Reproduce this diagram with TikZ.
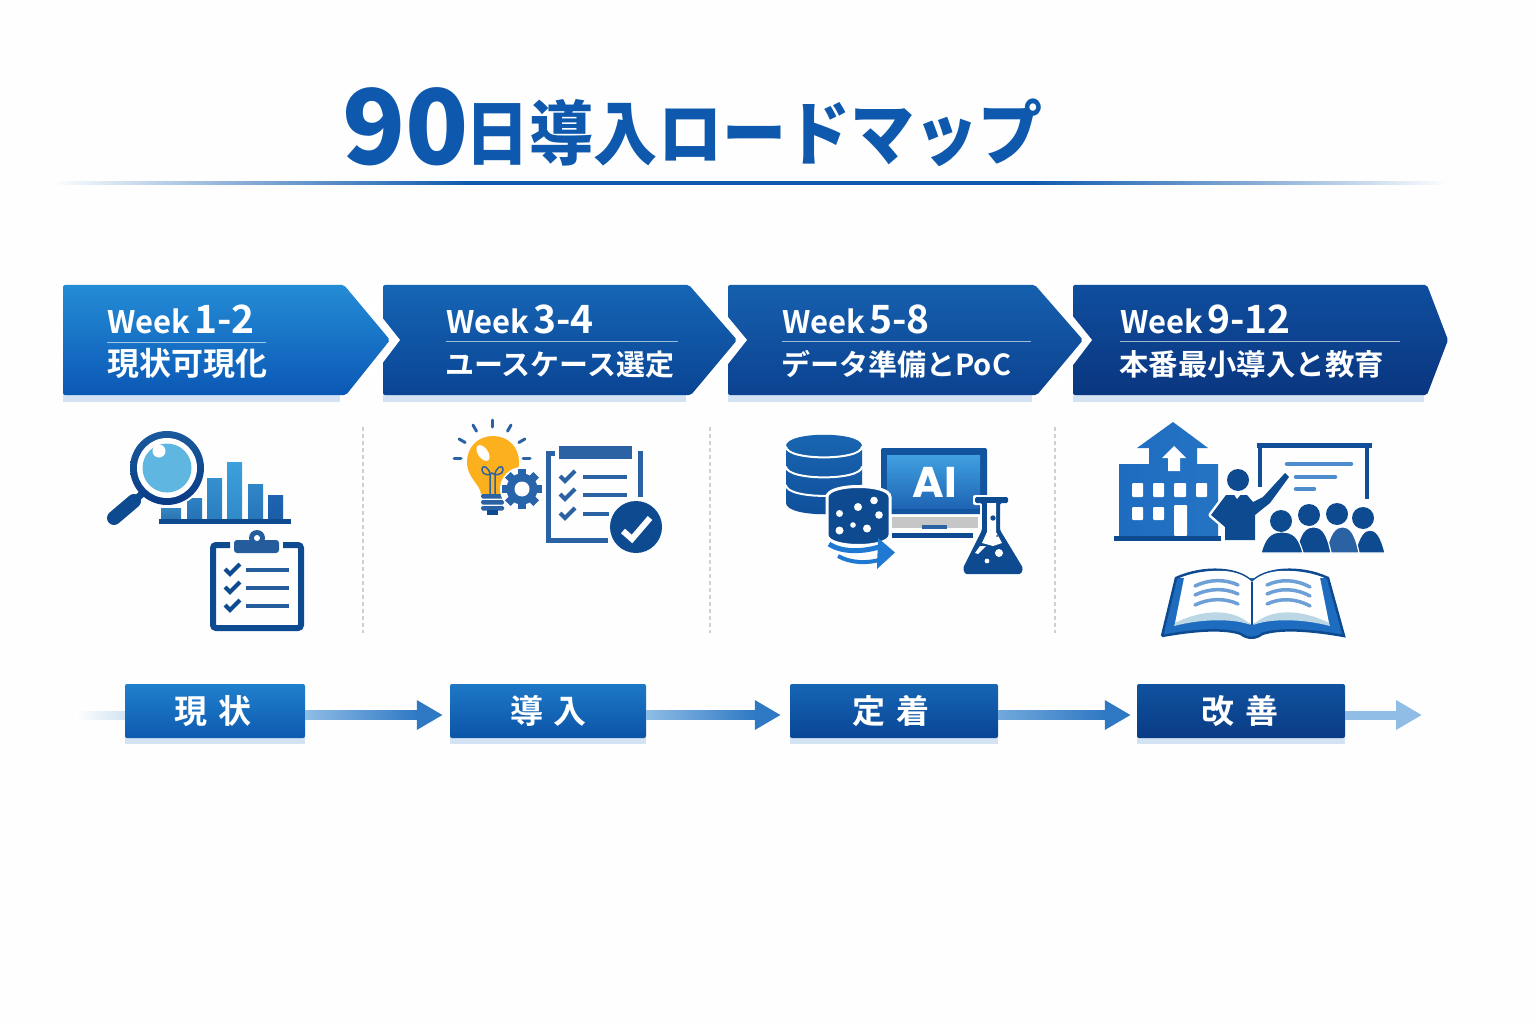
\documentclass[tikz,border=0pt]{standalone}
\usepackage{fontspec}
\setmainfont{Noto Sans CJK JP}[BoldFont={Noto Sans CJK JP Bold}]
\newfontfamily\jpblack{Noto Sans CJK JP Black}
\newfontfamily\wkf{Poppins}
\usetikzlibrary{calc,arrows.meta}
\definecolor{navy}{HTML}{0D4A90}
\definecolor{deep}{HTML}{0A3B85}
\definecolor{mid}{HTML}{1E6CC0}
\definecolor{steel}{HTML}{2A62A4}
\definecolor{pale}{HTML}{D3E3F3}
\definecolor{sky}{HTML}{5FB6E0}
\definecolor{amber}{HTML}{FDB01E}
\definecolor{titleblue}{HTML}{0E59AD}
\definecolor{arrowblue}{HTML}{2E78C4}
\definecolor{arrowlight}{HTML}{8FBDE6}
\definecolor{rulec}{HTML}{CDD1D6}
\definecolor{rulefade}{HTML}{86ACD6}
\pgfdeclarehorizontalshading{titlerule}{100bp}{color(0bp)=(white); color(25bp)=(white); color(32bp)=(rulefade); color(40bp)=(titleblue); color(60bp)=(titleblue); color(68bp)=(rulefade); color(75bp)=(white); color(100bp)=(white)}
\newcommand{\fs}[1]{\fontsize{#1}{#1}\selectfont}
\newcommand{\chk}[3]{\draw[line width=#3,line cap=butt,line join=miter] (#1-7,#2-1) -- (#1-2,#2+4) -- (#1+8,#2-6);}
\newcommand{\week}[1]{\fs{31}\bfseries Week\hspace{4pt}\fs{39}#1}
\tikzset{
  x=1pt,y=-1pt,
  wk/.style={anchor=base west,inner sep=0,text=white,font=\bfseries},
  sub/.style={anchor=base west,inner sep=0,text=white,font=\bfseries},
  pill/.style={minimum height=54,inner sep=0,rounded corners=2,text=white,font=\bfseries\fs{33}},
  conn/.style={line width=9,arrowblue,-{Triangle[length=26,width=28]}},
  sep/.style={rulec,line width=1.4,dash pattern=on 4 off 3},
  wrule/.style={white,opacity=.6,line width=1},
  shadowb/.style={fill=pale},
}
\begin{document}
\begin{tikzpicture}
\useasboundingbox (0,0) rectangle (1536,1024);
\fill[white!99.5!black] (0,0) rectangle (1536,1024);

% title
\node[anchor=base west,inner sep=0,text=titleblue] (title) at (342,164.5) {\jpblack\fs{104}90\hspace{-3pt}\raisebox{5pt}{\scalebox{.915}[1]{\fs{70}日導入ロードマップ}}};
\shade[shading=titlerule] (50,181.5) rectangle (1450,184.5);

% banner shadows
\fill[shadowb] (63,394) rectangle (340,402);
\fill[shadowb] (383,394) rectangle (686,402);
\fill[shadowb] (728,394) rectangle (1032,402);
\fill[shadowb] (1073,394) rectangle (1424,402);

% banners, right to left
\shade[top color={rgb,255:red,15;green,78;blue,158},bottom color={rgb,255:red,10;green,54;blue,128},rounded corners=2] (1073,285) -- (1427,285) -- (1448,340) -- (1427,395) -- (1073,395) -- cycle;
\fill[white] (1033,282) -- (1045,282) -- (1092,340) -- (1048,398) -- (1033,398) -- cycle;
\shade[top color={rgb,255:red,22;green,96;blue,174},bottom color={rgb,255:red,11;green,66;blue,144},rounded corners=2] (728,285) -- (1035,285) -- (1083,340) -- (1037,395) -- (728,395) -- cycle;
\fill[white] (686,282) -- (699,282) -- (747,340) -- (701,398) -- (686,398) -- cycle;
\shade[top color={rgb,255:red,22;green,101;blue,181},bottom color={rgb,255:red,10;green,68;blue,148},rounded corners=2] (383,285) -- (689,285) -- (737,340) -- (691,395) -- (383,395) -- cycle;
\fill[white] (343,282) -- (354,282) -- (400,340) -- (356,398) -- (343,398) -- cycle;
\shade[top color={rgb,255:red,36;green,140;blue,214},bottom color={rgb,255:red,11;green,88;blue,181},rounded corners=2] (63,285) -- (344,285) -- (390,340) -- (346,395) -- (63,395) -- cycle;

% banner texts
\node[wk] (w1) at (107,333) {\week{1-2}};
\draw[wrule] (107,342) -- (266,342);
\node[sub] (s1) at (107,375) {\fs{32}現状可現化};
\node[wk] (w2) at (446,333) {\week{3-4}};
\draw[wrule] (446,341) -- (678,341);
\node[sub] (s2) at (445,375) {\fs{29}ユースケース選定};
\node[wk] (w3) at (782,333) {\week{5-8}};
\draw[wrule] (782,341) -- (1031,341);
\node[sub] (s3) at (781,375) {\fs{29}データ準備とPoC};
\node[wk] (w4) at (1120,333) {\week{9-12}};
\draw[wrule] (1120,341) -- (1400,341);
\node[sub] (s4) at (1119,375) {\fs{29.4}本番最小導入と教育};

% separators
\draw[sep] (363,427) -- (363,633);
\draw[sep] (710,427) -- (710,633);
\draw[sep] (1055,427) -- (1055,633);

% ---- icon 1: bars
\definecolor{bara}{HTML}{3585C0}
\definecolor{barb}{HTML}{2F80C4}
\definecolor{barc}{HTML}{3590CE}
\definecolor{bard}{HTML}{3CA0DC}
\definecolor{bare}{HTML}{3186C8}
\definecolor{barf}{HTML}{1F64B0}
\foreach \xa/\xb/\t/\cc in {161/181/508/bara,187/202/498/barb,207/222/478/barc,227/242/462/bard,248/263/484/bare,268/283/495/barf}{
  \shade[top color=\cc,bottom color=\cc!75!navy] (\xa,\t) rectangle (\xb,518);
}
\fill[navy] (159,519) rectangle (291,524);
% magnifier
\fill[white] (167,468) circle (39);
\draw[navy,line width=14,line cap=round] (114,518) -- (134,501);
\draw[navy,line width=7] (134,501) -- (145,491);
\shade[top color=navy!85!sky,bottom color=deep] (167,468) circle (37);
\fill[white] (167,468) circle (30);
\fill[sky] (167,468) circle (24.5);
\fill[white] (159,451) circle (6.5);

% clipboard
\draw[navy,line width=6,rounded corners=3] (230,545) -- (213,545) -- (213,628) -- (301,628) -- (301,545) -- (283,545);
\fill[navy!90!white,rounded corners=3] (234,540) rectangle (279,553);
\fill[navy!90!white] (257,538) circle (8);
\fill[white] (257,538) circle (3);
\foreach \yy in {570,588,606}{
  \begin{scope}[navy]\chk{232}{\yy}{4}\end{scope}
  \fill[navy!90!white] (246,\yy-2) rectangle (289,\yy+2);
}

% ---- icon 2: bulb
\fill[amber] (481,494) .. controls (480,484) and (467,478) .. (467,462) .. controls (467,447) and (478,436) .. (493,436) .. controls (508,436) and (519,447) .. (519,462) .. controls (519,478) and (506,484) .. (504,494) -- cycle;
\fill[white,rotate around={35:(483,453)}] (483,453) ellipse (5 and 9);
\draw[steel,line width=1.5] (490,494) -- (490,475) .. controls (490,468) and (482,463) .. (482,470) .. controls (482,475) and (490,476) .. (492,473) .. controls (494,476) and (503,475) .. (503,470) .. controls (503,463) and (495,468) .. (495,475) -- (495,494);
\foreach \a in {0,30,60,90,120,150,180}{
  \draw[steel,line width=3,line cap=round] ($(492,458)+(\a:31 and -31)$) -- ($(492,458)+(\a:38 and -38)$);
}
\foreach \yy in {494,500,506}{\fill[steel,rounded corners=1.5] (481,\yy) rectangle (504,\yy+4.5);}
\fill[navy] (487,510) rectangle (498,515);
% gear
\fill[white] (522,489) circle (22);
\foreach \a in {0,45,...,315}{
  \fill[steel!80!mid,rotate around={\a:(522,489)}] (518,469) rectangle (526,480);
}
\fill[steel!80!mid] (522,489) circle (15.5);
\fill[white] (522,489) circle (7.5);

% checklist
\fill[steel] (559,446) rectangle (632,459);
\draw[steel,line width=5] (555,453) -- (548.5,453) -- (548.5,540) -- (608,540);
\draw[steel,line width=5] (640,451) -- (640,497);
\foreach \yy/\xe in {477/627,495/627,514/609}{
  \begin{scope}[steel]\chk{567}{\yy}{4}\end{scope}
  \fill[steel] (583,\yy-2) rectangle (\xe,\yy+2);
}
\fill[navy] (636,527) circle (26);
\draw[white,line width=6] (623,531) -- (632,539) -- (650,518);

% ---- icon 3: laptop
\fill[navy!70!mid,rounded corners=2] (881,448) rectangle (987,514);
\shade[top color={rgb,255:red,64;green,160;blue,224},bottom color={rgb,255:red,30;green,100;blue,180}] (887,455) rectangle (980,508);
\node[inner sep=0,text=white,font=\wkf\bfseries\fs{43}] (ai) at (935,482) {AI};
\fill[gray!45!white] (892,517) rectangle (978,528);
\fill[steel] (922,525) rectangle (947,529);
\fill[navy] (892,533) rectangle (973,538);

% database
\shade[top color={rgb,255:red,26;green,102;blue,178},bottom color={rgb,255:red,15;green,79;blue,154}] (786,446) -- (786,503) .. controls (786,518) and (862,518) .. (862,503) -- (862,446) .. controls (862,431) and (786,431) .. (786,446) -- cycle;
\foreach \yy in {446.5,466.5,485}{
  \draw[white,line width=2] (786,\yy) .. controls (786,\yy+14.5) and (862,\yy+14.5) .. (862,\yy);
}
% dotted cylinder
\path[fill=navy,draw=white,line width=3] (827,497) -- (827,535) .. controls (827,549) and (890,549) .. (890,535) -- (890,497) .. controls (890,483) and (827,483) .. (827,497) -- cycle;
\foreach \px/\py/\rr in {839.5/513.5/3.5,858/507/4,874/500.5/3.8,879/515/3.8,839.5/530.5/4,853/525/2.8,867/528.5/4}{
  \fill[white] (\px,\py) circle (\rr);
}
% swoosh arrow
\definecolor{swoosh}{HTML}{1F78D2}
\draw[swoosh,line width=5] (829,544) .. controls (842,553) and (865,552) .. (882,546);
\draw[swoosh,line width=4] (838,556) .. controls (850,563) and (868,564) .. (882,559);
\fill[swoosh] (878,538) -- (895,552.5) -- (877,569) -- cycle;

% flask
\path[draw=white,line width=4,line join=round] (975,497) -- (1008,497) -- (1008,503) -- (1000,503) -- (1000,530) -- (1023,568) -- (1021,574) -- (965,574) -- (963,568) -- (982,530) -- (982,503) -- (975,503) -- cycle;
\fill[navy,rounded corners=1.5] (975,497) -- (1008,497) -- (1008,503) -- (1000,503) -- (1000,530) -- (1023,568) -- (1021,574) -- (965,574) -- (963,568) -- (982,530) -- (982,503) -- (975,503) -- cycle;
\fill[white] (987,503) -- (996,503) -- (996,532) -- (1002,543) -- (993,546) -- (982,543) -- (987,532) -- cycle;
\fill[white] (980,546) -- (986,546) -- (978,554) -- (975,553) -- cycle;
\fill[navy] (993,518) circle (2.7);
\fill[navy] (997,536) circle (1);
\fill[white] (999,553) circle (4);
\fill[white] (987,561) circle (2.4);

% ---- icon 4: building
\shade[left color=mid,right color=mid!90!sky] (1173,422) -- (1137,448) -- (1149,448) -- (1149,464) -- (1119,464) -- (1119,536) -- (1218,536) -- (1218,464) -- (1197,464) -- (1197,448) -- (1208,448) -- cycle;
\fill[white] (1174,446) -- (1162,458) -- (1168,458) -- (1168,471) -- (1180,471) -- (1180,458) -- (1186,458) -- cycle;
\foreach \xa/\xb/\ya/\yb in {1132/1143/483/497,1153/1164/483/497,1174/1186/483/497,1196/1207/483/497,1132/1143/507/520,1153/1164/507/520,1174/1187/505/536}{
  \fill[white,rounded corners=1] (\xa,\ya) rectangle (\xb,\yb);
}
\fill[navy] (1114,536) rectangle (1221,541);
% board
\fill[navy!85!mid] (1257,443) rectangle (1372,448);
\fill[navy!85!mid] (1258,448) rectangle (1262,487);
\fill[navy!85!mid] (1365,448) rectangle (1369,499);
\draw[arrowblue!85!white,line width=4.5,line cap=round] (1287,464) -- (1351,464);
\draw[arrowblue!85!white,line width=4.5,line cap=round] (1296,477) -- (1335,477);
\draw[arrowblue!85!white,line width=4.5,line cap=round] (1296,489) -- (1314,489);
% presenter
\path[draw=white,line width=5,line join=round] (1226,495) -- (1211,515) -- (1225,527) -- (1225,540) -- (1255,540) -- (1255,515) -- (1270,503) -- (1289,477) -- (1285,473) -- (1263,497) -- (1253,502) -- (1247,495) -- cycle;
\fill[navy] (1226,495) -- (1211,515) -- (1225,527) -- (1225,540) -- (1255,540) -- (1255,515) -- (1270,503) -- (1289,477) -- (1285,473) -- (1263,497) -- (1253,502) -- (1247,495) -- cycle;
\fill[navy] (1238,480) circle (11);
\fill[white] (1233,493) -- (1242,493) -- (1237,499) -- cycle;
% audience
\foreach \xa/\xb/\t/\hx/\hy/\cc in {1355/1385/530/1363/518/navy,1326/1359/527/1337/514/steel,1296/1331/527/1309/515/navy,1261/1303/532/1281/521/navy}{
  \path[fill=\cc,draw=white,line width=1.2] (\xa,553) .. controls (\xa+4,\t+6) and (\xa+9,\t) .. ({(\xa+\xb)/2},\t) .. controls (\xb-9,\t) and (\xb-4,\t+6) .. (\xb,553) -- cycle;
  \fill[navy] (\hx,\hy) circle (11);
}

% book
\fill[mid] (1162,636) -- (1176,578) -- (1328,578) -- (1344,636) .. controls (1310,630) and (1280,628) .. (1262,634) .. controls (1256,639) and (1247,639) .. (1241,634) .. controls (1225,628) and (1195,630) .. (1162,636) -- cycle;
\draw[navy,line width=2.5] (1162,636) -- (1176,578) .. controls (1205,565) and (1240,568) .. (1252,582) .. controls (1264,568) and (1300,565) .. (1328,578) -- (1344,636) .. controls (1310,630) and (1280,628) .. (1262,634) .. controls (1256,639) and (1247,639) .. (1241,634) .. controls (1225,628) and (1195,630) .. (1162,636);
\fill[white] (1175,623) -- (1184,578) .. controls (1215,566) and (1240,570) .. (1252,582) -- (1252,625) .. controls (1235,613) and (1205,612) .. (1175,623) -- cycle;
\fill[white] (1329,623) -- (1320,578) .. controls (1289,566) and (1264,570) .. (1252,582) -- (1252,625) .. controls (1269,613) and (1299,612) .. (1329,623) -- cycle;
\fill[gray!30!sky!45!white] (1175,623) .. controls (1205,608) and (1235,609) .. (1251,625) .. controls (1235,619) and (1205,618) .. (1174,626) -- cycle;
\fill[gray!30!sky!45!white] (1329,623) .. controls (1299,608) and (1269,609) .. (1253,625) .. controls (1269,619) and (1299,618) .. (1330,626) -- cycle;
\draw[navy,line width=1.5] (1252,582) -- (1252,625);
\foreach \dy in {0,9,19}{
  \draw[arrowblue!70!white,line width=3.5,line cap=round] (1195,586+\dy) .. controls (1210,579+\dy) and (1225,579+\dy) .. (1238,585+\dy);
  \draw[arrowblue!70!white,line width=3.5,line cap=round] (1267,585+\dy) .. controls (1280,579+\dy) and (1295,579+\dy) .. (1310,587+\dy);
}

% ---- timeline
\shade[left color=white,right color=pale] (75,711) rectangle (125,719);
\fill[shadowb] (125,730) rectangle (305,744);
\fill[shadowb] (450,730) rectangle (646,744);
\fill[shadowb] (790,730) rectangle (998,744);
\fill[shadowb] (1137,730) rectangle (1345,744);
\node[pill,minimum width=180,top color={rgb,255:red,32;green,128;blue,204},bottom color={rgb,255:red,14;green,90;blue,176}] (p1) at (215,711) {};
\node[pill,minimum width=196,top color={rgb,255:red,30;green,120;blue,198},bottom color={rgb,255:red,11;green,84;blue,168}] (p2) at (548,711) {};
\node[pill,minimum width=208,top color={rgb,255:red,21;green,102;blue,180},bottom color={rgb,255:red,10;green,69;blue,150}] (p3) at (894,711) {};
\node[pill,minimum width=208,top color={rgb,255:red,16;green,82;blue,159},bottom color={rgb,255:red,10;green,59;blue,133}] (p4) at (1241,711) {};
\node[inner sep=0,text=white,font=\bfseries\fs{33}] (t1) at (213,711) {現\hspace{11pt}状};
\node[inner sep=0,text=white,font=\bfseries\fs{33}] (t2) at (548.5,711) {導\hspace{11pt}入};
\node[inner sep=0,text=white,font=\bfseries\fs{33}] (t3) at (890.5,711) {定\hspace{11pt}着};
\node[inner sep=0,text=white,font=\bfseries\fs{33}] (t4) at (1240,711) {改\hspace{11pt}善};

\coordinate (e1) at ($(p1.east)+(0,4)$);
\coordinate (f2) at ($(p2.west)+(-7,4)$);
\coordinate (e2) at ($(p2.east)+(0,4)$);
\coordinate (f3) at ($(p3.west)+(-9,4)$);
\coordinate (e3) at ($(p3.east)+(0,4)$);
\coordinate (f4) at ($(p4.west)+(-6,4)$);
\coordinate (e4) at ($(p4.east)+(0,4)$);
\coordinate (f5) at (1422,715);
\draw[conn] (e1) -- (f2);
\draw[conn] (e2) -- (f3);
\draw[conn] (e3) -- (f4);
\draw[conn,arrowlight] (e4) -- (f5);
\shade[left color=arrowlight,right color=arrowblue] ($(e1)+(0,-4.5)$) rectangle ($(f2)+(-25,4.5)$);
\shade[left color=arrowlight,right color=arrowblue] ($(e2)+(0,-4.5)$) rectangle ($(f3)+(-25,4.5)$);
\shade[left color=arrowlight!70!arrowblue,right color=arrowblue] ($(e3)+(0,-4.5)$) rectangle ($(f4)+(-25,4.5)$);
\end{tikzpicture}
\end{document}
